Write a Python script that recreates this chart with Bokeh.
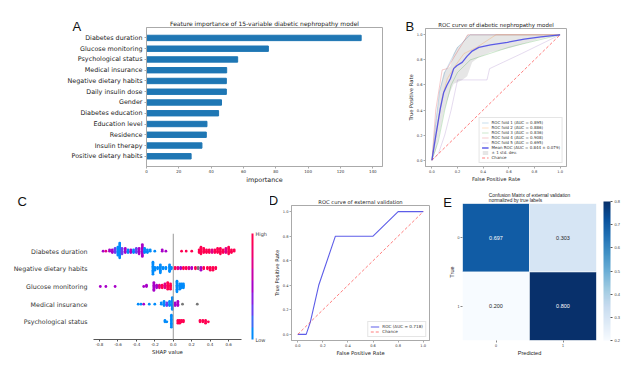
import numpy as np
from bokeh.plotting import figure
from bokeh.layouts import column, row
from bokeh.models import (Range1d, FixedTicker, Legend, LegendItem, ColorBar, Title,
                          LinearColorMapper, ColumnDataSource, Span, PrintfTickFormatter,
                          FactorRange)
from bokeh.palettes import Blues256
from bokeh.core.properties import value
from bokeh.embed import file_html
from bokeh.resources import INLINE

FONT = "DejaVu Sans"
LFONT = "Liberation Sans"

# ---------------- Panel A data ----------------
features_a = ["Diabetes duration", "Glucose monitoring", "Psychological status",
              "Medical insurance", "Negative dietary habits", "Daily insulin dose",
              "Gender", "Diabetes education", "Education level", "Residence",
              "Insulin therapy", "Positive dietary habits"]
importance_a = [132.8, 75.4, 56.4, 49.6, 49.4, 49.4, 46.4, 44.6, 37.4, 37.0, 34.3, 27.6]
ticks_a = [0, 20, 40, 60, 80, 100, 120, 140]

# ---------------- Panel B data ----------------
fold1_fpr = [0, 0.03, 0.06, 0.10, 0.15, 0.20, 0.25, 0.30, 1.0]
fold1_tpr = [0, 0.30, 0.55, 0.70, 0.80, 0.90, 0.95, 1.0, 1.0]
fold2_fpr = [0, 0.04, 0.08, 0.12, 0.18, 0.25, 0.35, 0.50, 1.0]
fold2_tpr = [0, 0.25, 0.50, 0.65, 0.75, 0.85, 0.90, 1.0, 1.0]
fold3_fpr = [0, 0.05, 0.10, 0.15, 0.20, 0.30, 0.45, 0.60, 0.80, 1.0]
fold3_tpr = [0, 0.15, 0.40, 0.60, 0.70, 0.80, 0.85, 0.90, 0.95, 1.0]
fold4_fpr = [0, 0.03, 0.08, 0.12, 0.16, 0.22, 0.28, 1.0]
fold4_tpr = [0, 0.40, 0.72, 0.73, 0.80, 0.90, 1.0, 1.0]
fold5_fpr = [0, 0.05, 0.10, 0.15, 0.20, 0.43, 0.45, 0.70, 1.0]
fold5_tpr = [0, 0.05, 0.20, 0.40, 0.64, 0.64, 0.73, 0.85, 1.0]
fold_auc = [0.895, 0.886, 0.836, 0.908, 0.695]
mean_fpr = [0, 0.031, 0.065, 0.092, 0.118, 0.144, 0.17, 0.196, 0.236, 0.275, 0.314,
            0.366, 0.458, 0.589, 0.72, 0.85, 1.0]
mean_tpr = [0, 0.20, 0.41, 0.54, 0.60, 0.65, 0.73, 0.755, 0.78, 0.83, 0.87,
            0.90, 0.92, 0.94, 0.966, 0.984, 1.0]
std_upper = [0, 0.32, 0.58, 0.70, 0.73, 0.75, 0.85, 0.90, 0.93, 1.0, 1.0,
             1.0, 1.0, 1.0, 1.0, 1.0, 1.0]
std_lower = [0, 0.08, 0.24, 0.38, 0.47, 0.55, 0.61, 0.62, 0.64, 0.67, 0.78,
             0.82, 0.86, 0.89, 0.93, 0.97, 1.0]
ticks_roc = [0.0, 0.2, 0.4, 0.6, 0.8, 1.0]

# ---------------- Panel C data (SHAP: value, feature value, count) ----------------
rows_c = ["Psychological status", "Medical insurance", "Glucose monitoring",
          "Negative dietary habits", "Diabetes duration"]
BL, BP, PU, PR, RD, NA = 0.05, 0.3, 0.5, 0.75, 0.95, float("nan")
shap_duration = [(-0.76, PU, 1), (-0.73, PR, 1), (-0.69, PU, 2), (-0.66, PU, 3),
                 (-0.63, BP, 4), (-0.60, BL, 7), (-0.58, BL, 12), (-0.555, BP, 5),
                 (-0.52, PU, 4), (-0.49, BL, 3), (-0.46, PU, 3), (-0.43, BL, 3),
                 (-0.40, BP, 4), (-0.37, PU, 5), (-0.335, PU, 10), (-0.31, BL, 4),
                 (-0.28, BL, 3), (-0.25, BL, 2), (-0.20, BL, 1), (-0.12, PU, 2),
                 (-0.08, PU, 1), (0.09, RD, 1), (0.14, RD, 1), (0.20, RD, 1),
                 (0.28, RD, 3), (0.30, RD, 6), (0.33, RD, 4), (0.36, RD, 3),
                 (0.39, RD, 3), (0.42, PR, 3), (0.45, RD, 3), (0.48, RD, 4),
                 (0.51, RD, 5), (0.54, RD, 3), (0.57, PR, 4), (0.60, RD, 6),
                 (0.63, RD, 3), (0.66, RD, 2)]
shap_negative = [(-0.22, BL, 10), (-0.20, BL, 3), (-0.17, BL, 2), (-0.14, BL, 7),
                 (-0.11, BL, 2), (-0.08, BL, 2), (-0.04, BL, 6), (-0.02, BL, 2),
                 (0.02, RD, 2), (0.05, PR, 2), (0.08, PU, 2), (0.11, RD, 2),
                 (0.14, RD, 2), (0.17, PR, 2), (0.20, PU, 2), (0.24, RD, 2),
                 (0.27, NA, 2), (0.30, PU, 3), (0.33, RD, 2), (0.37, RD, 2),
                 (0.40, RD, 3), (0.43, RD, 3), (0.46, RD, 2)]
shap_glucose = [(-0.79, PU, 1), (-0.73, PU, 1), (-0.63, PU, 1), (-0.32, PU, 1),
                (-0.29, PU, 2), (-0.21, PU, 7), (-0.18, PU, 3), (-0.15, PR, 3),
                (-0.12, RD, 3), (-0.09, PR, 4), (-0.06, RD, 6), (-0.03, RD, 5),
                (0.04, BL, 9), (0.07, BL, 5), (0.09, BL, 4), (0.11, BL, 4)]
shap_medical = [(-0.38, BL, 1), (-0.35, BL, 1), (-0.32, PU, 1), (-0.26, BL, 1),
                (-0.20, BL, 1), (-0.13, BL, 2), (-0.10, BL, 4), (-0.07, BP, 3),
                (-0.04, BL, 4), (-0.01, BL, 10), (0.02, PU, 3), (0.05, PU, 4),
                (0.10, NA, 1), (0.26, NA, 1)]
shap_psych = [(-0.09, BL, 2), (-0.07, BL, 1), (-0.02, BL, 10), (0.05, RD, 3),
              (0.07, RD, 3), (0.09, RD, 2), (0.11, RD, 2), (0.29, RD, 2),
              (0.32, RD, 2), (0.35, RD, 3), (0.38, RD, 1)]
ticks_c = [-0.8, -0.6, -0.4, -0.2, 0.0, 0.2, 0.4, 0.6]
shap_palette = ["#008bfb", "#3d6af5", "#6a3ff0", "#8a1fe0", "#a800c8",
                "#c700a8", "#e00088", "#f2006a", "#ff0051"]

# ---------------- Panel D data ----------------
ext_fpr = [0, 0.067, 0.10, 0.167, 0.30, 0.60, 0.80, 1.0]
ext_tpr = [0, 0.0, 0.10, 0.40, 0.80, 0.80, 1.0, 1.0]
ext_auc = 0.718

# ---------------- Panel E data ----------------
cm_pred = ["0", "1", "0", "1"]
cm_true = ["0", "0", "1", "1"]
cm_vals = [0.697, 0.303, 0.200, 0.800]
ticks_cm = [0.2, 0.3, 0.4, 0.5, 0.6, 0.7, 0.8]


def style_axes(p, tick_size, label_size, line_color="#888888", font=FONT):
    for ax in p.axis:
        ax.major_label_text_font = font
        ax.major_label_text_font_size = tick_size
        ax.major_label_text_color = "#333333"
        ax.axis_label_text_font = font
        ax.axis_label_text_font_size = label_size
        ax.axis_label_text_font_style = "normal"
        ax.axis_label_text_color = "#222222"
        ax.axis_line_color = line_color
        ax.major_tick_line_color = line_color
        ax.minor_tick_line_color = None
        ax.major_tick_in = 0
        ax.major_tick_out = 2
        ax.major_label_standoff = 1
        ax.axis_label_standoff = 0
    p.xgrid.visible = False
    p.ygrid.visible = False


def add_title(p, text, size, font=FONT):
    p.add_layout(Title(text=text, text_font=font, text_font_size=size,
                       text_font_style="normal", text_color="#222222",
                       align="center", standoff=1), "above")


def add_letter(p, text, offset, standoff):
    p.add_layout(Title(text=text, text_font=LFONT, text_font_size="13px",
                       text_font_style="normal", text_color="#111111",
                       align="left", offset=offset, standoff=standoff), "above")


common = dict(output_backend="svg", toolbar_location=None, background_fill_color="white",
              border_fill_color="white", frame_align=False)

# ---------------- A ----------------
pa = figure(width=392, height=186, x_range=Range1d(0, 146), y_range=Range1d(-0.95, 11.97),
            min_border_left=146, min_border_right=10, min_border_top=27, min_border_bottom=20,
            **common)
ya = [len(features_a) - 1 - i for i in range(len(features_a))]
pa.hbar(y=ya, right=importance_a, left=0, height=0.5, color="#1f77b4")
pa.xaxis.ticker = FixedTicker(ticks=ticks_a)
pa.yaxis.ticker = FixedTicker(ticks=ya)
pa.yaxis.major_label_overrides = {y: f for y, f in zip(ya, features_a)}
pa.xaxis.axis_label = "importance"
pa.outline_line_color = "#aaaaaa"
style_axes(pa, "4px", "6.4px", "#aaaaaa")
pa.yaxis.major_label_text_font_size = "6.4px"
pa.yaxis.major_label_text_color = "#222222"
pa.yaxis.major_label_standoff = 2
add_title(pa, "Feature importance of 15-variable diabetic nephropathy model", "6px")
add_letter(pa, "A", -74, -33.6)

# ---------------- B ----------------
pb = figure(width=240, height=186, x_range=Range1d(-0.05, 1.05), y_range=Range1d(-0.05, 1.05),
            min_border_left=33, min_border_right=66, min_border_top=28, min_border_bottom=20,
            **common)
band = pb.varea(x=mean_fpr, y1=std_lower, y2=std_upper, fill_color="grey", fill_alpha=0.2)
fold_colors = ["#1f77b4", "#ff7f0e", "#2ca02c", "#d62728", "#9467bd"]
folds = [(fold1_fpr, fold1_tpr), (fold2_fpr, fold2_tpr), (fold3_fpr, fold3_tpr),
         (fold4_fpr, fold4_tpr), (fold5_fpr, fold5_tpr)]
items = []
for i, (fx, fy) in enumerate(folds):
    r = pb.line(fx, fy, line_color=fold_colors[i], line_alpha=0.3, line_width=0.8)
    items.append(LegendItem(label=f"ROC fold {i + 1} (AUC = {fold_auc[i]:.3f})", renderers=[r]))
chance = pb.line([0, 1], [0, 1], line_color="#ff3333", line_alpha=0.8, line_width=0.8,
                 line_dash="3 2")
mean_r = pb.line(mean_fpr, mean_tpr, line_color="#4b4be6", line_width=1.3, line_alpha=0.9)
items.append(LegendItem(label="Mean ROC (AUC = 0.844 \u00b1 0.079)", renderers=[mean_r]))
items.append(LegendItem(label="\u00b1 1 std. dev.", renderers=[band]))
items.append(LegendItem(label="Chance", renderers=[chance]))
lg = Legend(items=items, location="bottom_right", label_text_font=FONT,
            label_text_font_size="4px", label_height=5, glyph_height=5, glyph_width=7,
            spacing=0, padding=2, margin=3, label_standoff=3, border_line_color="#cccccc",
            background_fill_alpha=0.8, label_text_color="#333333")
pb.add_layout(lg)
pb.xaxis.ticker = FixedTicker(ticks=ticks_roc)
pb.yaxis.ticker = FixedTicker(ticks=ticks_roc)
pb.xaxis.formatter = PrintfTickFormatter(format="%.1f")
pb.yaxis.formatter = PrintfTickFormatter(format="%.1f")
pb.xaxis.axis_label = "False Positive Rate"
pb.yaxis.axis_label = "True Positive Rate"
pb.outline_line_color = "#aaaaaa"
style_axes(pb, "3.6px", "5.2px", "#aaaaaa")
add_title(pb, "ROC curve of diabetic nephropathy model", "5.5px")
add_letter(pb, "B", -20, -28)

# ---------------- C ----------------
pc = figure(width=270, height=172, x_range=Range1d(-0.864, 0.739), y_range=Range1d(-1, 5),
            min_border_left=93, min_border_right=29, min_border_top=47, min_border_bottom=19,
            **common)
xs, ys, fvs = [], [], []
for r, clusters in enumerate([shap_psych, shap_medical, shap_glucose, shap_negative, shap_duration]):
    for (sx, fv, n) in clusters:
        for k in range(n):
            layer = (k + 1) // 2
            sign = 1 if k % 2 else -1
            xs.append(sx)
            ys.append(r + sign * layer * 0.075)
            fvs.append(fv)
shap_mapper = LinearColorMapper(palette=shap_palette, low=0, high=1, nan_color="#777777")
src_c = ColumnDataSource(dict(x=xs, y=ys, fv=np.array(fvs, dtype=float)))
pc.add_layout(Span(location=0, dimension="height", line_color="#999999", line_width=1))
pc.scatter("x", "y", source=src_c, size=2.8, line_color=None,
           fill_color={"field": "fv", "transform": shap_mapper})
pc.xaxis.ticker = FixedTicker(ticks=ticks_c)
pc.xaxis.formatter = PrintfTickFormatter(format="%.1f")
pc.yaxis.ticker = FixedTicker(ticks=list(range(len(rows_c))))
pc.yaxis.major_label_overrides = {i: n for i, n in enumerate(rows_c)}
pc.xaxis.axis_label = "SHAP value"
pc.outline_line_color = None
style_axes(pc, "4px", "5.4px", "#555555")
pc.yaxis.axis_line_color = None
pc.yaxis.major_tick_line_color = None
pc.yaxis.major_label_text_font_size = "6.3px"
pc.yaxis.major_label_standoff = 4
cb_c = ColorBar(color_mapper=shap_mapper, ticker=FixedTicker(ticks=[0, 1]),
                major_label_overrides={0: "Low", 1: "High"}, width=2, height=106,
                location=(10, 0), padding=0, margin=0, major_tick_line_color=None,
                label_standoff=2, major_label_text_font_size="5px",
                major_label_text_font=FONT, bar_line_color=None, border_line_color=None,
                background_fill_alpha=0)
pc.add_layout(cb_c, "right")
# invisible spacer keeps the panel letter at the reference height
pc.add_layout(Title(text="\u00a0", text_font_size="17px", standoff=0), "above")
add_letter(pc, "C", -76, 7.4)

# ---------------- D ----------------
pdd = figure(width=170, height=172, x_range=Range1d(-0.05, 1.05), y_range=Range1d(-0.05, 1.05),
             min_border_left=20, min_border_right=11, min_border_top=19, min_border_bottom=16,
             **common)
roc_r = pdd.line(ext_fpr, ext_tpr, line_color="#4b4be6", line_width=1.1, line_alpha=0.9)
ch_r = pdd.line([0, 1], [0, 1], line_color="#ff3333", line_alpha=0.8, line_width=0.8,
                line_dash="3 2")
lgd = Legend(items=[LegendItem(label=f"ROC (AUC = {ext_auc:.3f})", renderers=[roc_r]),
                    LegendItem(label="Chance", renderers=[ch_r])],
             location="bottom_right", label_text_font=FONT, label_text_font_size="4.2px",
             label_height=5, glyph_height=5, glyph_width=9, spacing=0, padding=2, margin=3,
             label_standoff=3, border_line_color="#cccccc", background_fill_alpha=0.8,
             label_text_color="#333333")
pdd.add_layout(lgd)
pdd.xaxis.ticker = FixedTicker(ticks=ticks_roc)
pdd.yaxis.ticker = FixedTicker(ticks=ticks_roc)
pdd.xaxis.formatter = PrintfTickFormatter(format="%.1f")
pdd.yaxis.formatter = PrintfTickFormatter(format="%.1f")
pdd.xaxis.axis_label = "False Positive Rate"
pdd.yaxis.axis_label = "True Positive Rate"
pdd.outline_line_color = "#aaaaaa"
style_axes(pdd, "3.6px", "5.2px", "#aaaaaa")
add_title(pdd, "ROC curve of external validation", "5.2px")
add_letter(pdd, "D", -22.7, -22)

# ---------------- E ----------------
pe = figure(width=192, height=172, x_range=FactorRange("0", "1"), y_range=FactorRange("1", "0"),
            min_border_left=22, min_border_right=36, min_border_top=17, min_border_bottom=16,
            **common)
blues_mapper = LinearColorMapper(palette=list(Blues256)[::-1], low=0.2, high=0.8)
src_e = ColumnDataSource(dict(pred=cm_pred, true=cm_true, v=cm_vals,
                              t=[f"{v:.3f}" for v in cm_vals],
                              tc=["white" if v > 0.5 else "#262626" for v in cm_vals]))
pe.rect(x="pred", y="true", width=1, height=1, source=src_e, line_color="white",
        line_width=0.5, fill_color={"field": "v", "transform": blues_mapper})
pe.text(x="pred", y="true", text="t", source=src_e, text_color="tc", text_align="center",
        text_baseline="middle", text_font=value(LFONT), text_font_size="5.5px")
pe.xaxis.axis_label = "Predicted"
pe.yaxis.axis_label = "True"
pe.outline_line_color = None
style_axes(pe, "3.6px", "5.6px", "#888888", font=LFONT)
pe.xaxis.axis_line_color = None
pe.yaxis.axis_line_color = None
cb_e = ColorBar(color_mapper=blues_mapper, ticker=FixedTicker(ticks=ticks_cm),
                formatter=PrintfTickFormatter(format="%.1f"), width=7, height=139,
                location=(7, 0), padding=0, margin=0, major_tick_in=0, major_tick_out=2,
                major_tick_line_color="#555555", label_standoff=2,
                major_label_text_font_size="4px", major_label_text_font=LFONT,
                bar_line_color=None, border_line_color=None, background_fill_alpha=0)
pe.add_layout(cb_e, "right")
add_title(pe, "Confusion Matrix of external validation\nnormalized by true labels", "4.8px",
          font=LFONT)
add_letter(pe, "E", -19.3, -38)

p = column(row(pa, pb), row(pc, pdd, pe))
open("out.html", "w").write(file_html(p, INLINE))
